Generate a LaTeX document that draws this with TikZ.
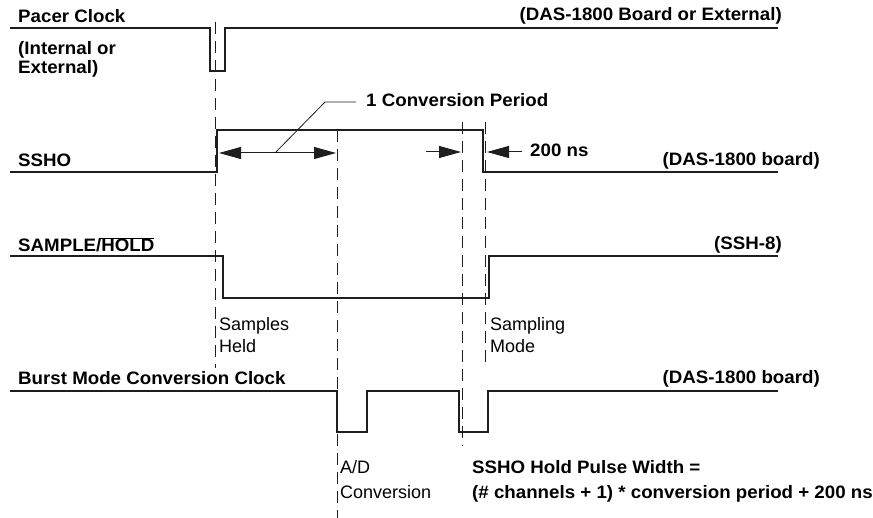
\documentclass[tikz,border=0pt]{standalone}
\usepackage{fontspec}
\setmainfont[BoldFeatures={FakeStretch=1.04}]{Liberation Sans}
\usetikzlibrary{arrows.meta}
\definecolor{ink}{HTML}{1E1E1E}
\begin{document}
\begin{tikzpicture}[x=1pt,y=-1pt,
  wave/.style={draw=ink,line width=1.4pt,line join=miter},
  guide/.style={draw=ink,line width=0.9pt,dash pattern=on 12pt off 7pt},
  dim/.style={draw=ink,line width=1pt,-{Triangle[length=22pt,width=12pt]}},
  dimboth/.style={draw=ink,line width=1pt,{Triangle[length=22pt,width=12pt]}-{Triangle[length=22pt,width=12pt]}},
  lead/.style={draw=ink,line width=0.8pt},
  lbl/.style={inner sep=0pt,anchor=base west,font=\fontsize{18}{20}\selectfont\bfseries},
  lblr/.style={inner sep=0pt,anchor=base east,font=\fontsize{18}{20}\selectfont\bfseries},
  note/.style={inner sep=0pt,anchor=base west,font=\fontsize{18}{20}\selectfont}]
\useasboundingbox[fill=white] (0,0) rectangle (873,518);

% dashed guides
\draw[guide] (215,22) -- (215,368);
\draw[guide] (337,130) -- (337,518);
\draw[guide] (462,122) -- (462,446);
\draw[guide] (485,122) -- (485,369);

% waveforms
\draw[wave] (10,28) -- (210,28) -- (210,71) -- (225,71) -- (225,28) -- (778,28);
\draw[wave] (10,172) -- (217,172) -- (217,130) -- (483,130) -- (483,172) -- (778,172);
\draw[wave] (10,256) -- (223,256) -- (223,298) -- (489,298) -- (489,256) -- (778,256);
\draw[wave] (10,391) -- (337,391) -- (337,432) -- (367,432) -- (367,391) -- (459,391)
  -- (459,432) -- (488,432) -- (488,391) -- (778,391);

% labels
\node[lbl] (pacer) at (18,23) {Pacer Clock};
\node[lbl] (int) at (18,55) {(Internal or};
\node[lbl] (ext) at (18,74) {External)};
\node[lblr] (pacsrc) at (782,21) {(DAS-1800 Board or External)};
\node[lbl] (ssho) at (18,167) {SSHO};
\node[lblr] (sshosrc) at (820,166) {(DAS-1800 board)};
\node[lbl] (sh) at (18,252) {SAMPLE/$\overline{\mbox{HOLD}}$};
\node[lblr] (shsrc) at (782,250) {(SSH-8)};
\node[lbl] (burst) at (18,385) {Burst Mode Conversion Clock};
\node[lblr] (burstsrc) at (820,384) {(DAS-1800 board)};

\node[note] (samples) at (219,331) {Samples};
\node[note] (held) at (219,353) {Held};
\node[note] (sampling) at (490,331) {Sampling};
\node[note] (mode) at (490,353) {Mode};
\node[note] (ad) at (340,473) {A/D};
\node[note] (conv) at (340,498) {Conversion};
\node[lbl] (hold1) at (472,473) {SSHO Hold Pulse Width =};
\node[lbl] (hold2) at (472,498) {(\# channels + 1) * conversion period + 200 ns};

\node[lbl] (period) at (366,107) {1 Conversion Period};
\node[lbl] (ns) at (530,157) {200 ns};

% dimension arrows
\coordinate (pa) at (219,153);
\coordinate (pb) at (336,153);
\draw[dimboth] (pa) -- (pb);
\coordinate (la) at (275,153);
\coordinate (lb) at (325,102);
\coordinate (lc) at (356,102);
\draw[lead] (la) -- (lb) -- (lc);
\coordinate (ra0) at (426,152);
\coordinate (ra1) at (461,152);
\draw[dim] (ra0) -- (ra1);
\coordinate (rb0) at (522,152);
\coordinate (rb1) at (487,152);
\draw[dim] (rb0) -- (rb1);
\end{tikzpicture}
\end{document}
